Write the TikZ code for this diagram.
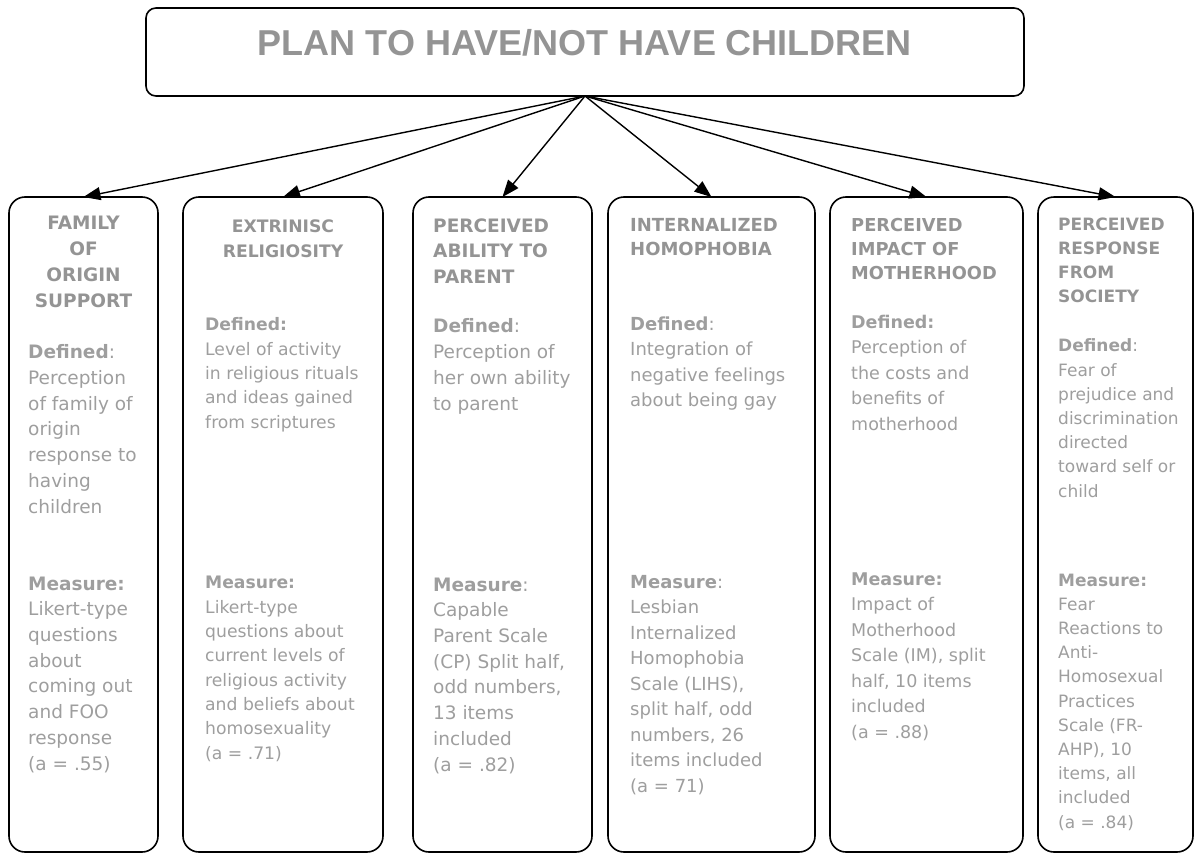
\documentclass[tikz,border=0pt]{standalone}
\usepackage{fontspec}
\setmainfont{DejaVu Sans}
\newfontfamily\titlefont{Liberation Sans}
\usetikzlibrary{arrows.meta}
\definecolor{txtgray}{RGB}{158,158,158}
\definecolor{hdgray}{RGB}{148,148,148}

\begin{document}
\begin{tikzpicture}[
  x=1pt, y=-1pt,
  >={Triangle[length=17pt,width=13pt]},
  colbox/.style={draw=black, line width=1.6pt, rounded corners=16pt,
                 minimum height=655pt, inner sep=0pt, outer sep=0pt},
  sect/.style={align=left, anchor=base west, inner sep=0pt, text=txtgray},
  txt/.style 2 args={font=\fontsize{#1}{#2}\selectfont},
  hd/.style 2 args={font=\fontsize{#1}{#2}\selectfont\bfseries, text=hdgray},
]
\useasboundingbox (0,0) rectangle (1195,854);

% Top box with the outcome
\node[draw=black, line width=1.6pt, rounded corners=10pt, minimum width=878pt,
      minimum height=88pt, inner sep=0pt, outer sep=0pt] (plan) at (585,52) {};
\node[anchor=base, inner sep=0pt, text=hdgray,
      font=\titlefont\bfseries\fontsize{36}{40}\selectfont] (plan-t) at (585,55)
  {PLAN TO HAVE/NOT HAVE CHILDREN};

% Six factor columns
\node[colbox, minimum width=149pt] (famsup)  at (83.5,524.5)  {};
\node[colbox, minimum width=200pt] (extrel)  at (283,524.5)   {};
\node[colbox, minimum width=179pt] (abil)    at (502.5,524.5) {};
\node[colbox, minimum width=207pt] (homoph)  at (711.5,524.5) {};
\node[colbox, minimum width=193pt] (mother)  at (926.5,524.5) {};
\node[colbox, minimum width=155pt] (society) at (1115.5,524.5) {};

% Arrows from the outcome down to each column
\foreach \c in {famsup,extrel,abil,homoph,mother,society}
  \draw[->, line width=1.4pt] (plan.south) -- (\c.north);

% Text blocks: each one sits on the baseline of its last line
% --- Family of origin support ---
\node[sect, hd={18.5}{25.7}, align=center, anchor=base] (famsup-h) at (83.5,307)
  {FAMILY\\OF\\ORIGIN\\SUPPORT};
\node[sect, txt={18.5}{25.7}] (famsup-d) at (28,513)
  {\textbf{Defined}:\\Perception\\of family of\\origin\\response to\\having\\children};
\node[sect, txt={18.5}{25.7}] (famsup-m) at (28,770)
  {\textbf{Measure:}\\Likert-type\\questions\\about\\coming out\\and FOO\\response\\(a = .55)};

% --- Extrinsic religiosity ---
\node[sect, hd={17.2}{25}, align=center, anchor=base] (extrel-h) at (283,257)
  {EXTRINISC\\RELIGIOSITY};
\node[sect, txt={17.2}{24.3}] (extrel-d) at (205,428)
  {\textbf{Defined:}\\Level of activity\\in religious rituals\\and ideas gained\\from scriptures};
\node[sect, txt={17.2}{24.3}] (extrel-m) at (205,759)
  {\textbf{Measure:}\\Likert-type\\questions about\\current levels of\\religious activity\\and beliefs about\\homosexuality\\(a = .71)};

% --- Perceived ability to parent ---
\node[sect, hd={18.5}{25.5}] (abil-h) at (433,283)
  {PERCEIVED\\ABILITY TO\\PARENT};
\node[sect, txt={18.5}{25.7}] (abil-d) at (433,410)
  {\textbf{Defined}:\\Perception of\\her own ability\\to parent};
\node[sect, txt={18.5}{25.7}] (abil-m) at (433,771)
  {\textbf{Measure}:\\Capable\\Parent Scale\\(CP) Split half,\\odd numbers,\\13 items\\included\\(a = .82)};

% --- Internalized homophobia ---
\node[sect, hd={18}{24.5}] (homoph-h) at (630,255.5)
  {INTERNALIZED\\HOMOPHOBIA};
\node[sect, txt={18}{25.5}] (homoph-d) at (630,406.5)
  {\textbf{Defined}:\\Integration of\\negative feelings\\about being gay};
\node[sect, txt={18}{25.5}] (homoph-m) at (630,792)
  {\textbf{Measure}:\\Lesbian\\Internalized\\Homophobia\\Scale (LIHS),\\split half, odd\\numbers, 26\\items included\\(a = 71)};

% --- Perceived impact of motherhood ---
\node[sect, hd={17.8}{24}] (mother-h) at (851,279)
  {PERCEIVED\\IMPACT OF\\MOTHERHOOD};
\node[sect, txt={17.5}{25.5}] (mother-d) at (851,430)
  {\textbf{Defined:}\\Perception of\\the costs and\\benefits of\\motherhood};
\node[sect, txt={17.5}{25.5}] (mother-m) at (851,738)
  {\textbf{Measure:}\\Impact of\\Motherhood\\Scale (IM), split\\half, 10 items\\included\\(a = .88)};

% --- Perceived response from society ---
\node[sect, hd={17}{24}] (society-h) at (1058,302)
  {PERCEIVED\\RESPONSE\\FROM\\SOCIETY};
\node[sect, txt={17}{24.2}] (society-d) at (1058,497)
  {\textbf{Defined}:\\Fear of\\prejudice and\\discrimination\\directed\\toward self or\\child};
\node[sect, txt={17}{24.2}] (society-m) at (1058,828)
  {\textbf{Measure:}\\Fear\\Reactions to\\Anti-\\Homosexual\\Practices\\Scale (FR-\\AHP), 10\\items, all\\included\\(a = .84)};

\end{tikzpicture}
\end{document}
